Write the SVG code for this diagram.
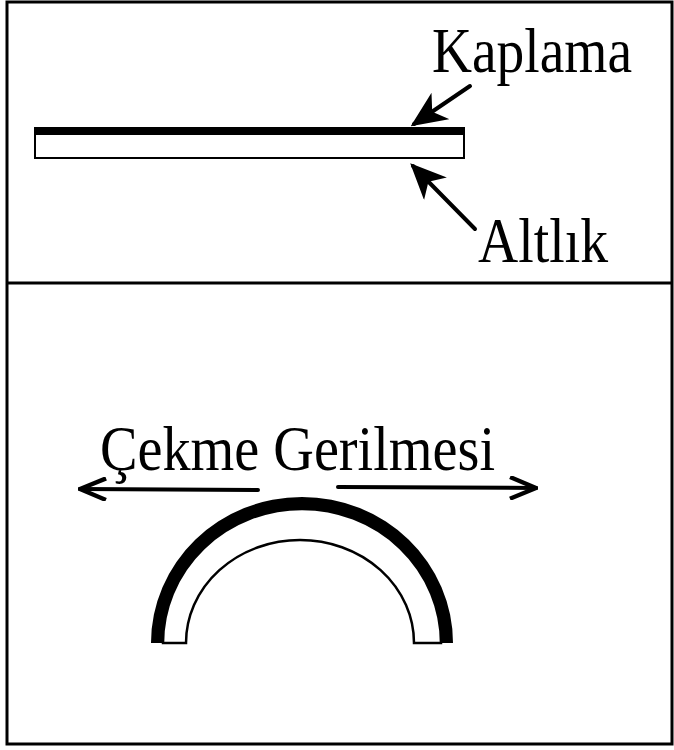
<svg xmlns="http://www.w3.org/2000/svg" width="674" height="750" viewBox="0 0 674 750">
<style>
.lbl{font-family:"Liberation Serif","Times New Roman",serif;font-size:64px;fill:#000}
.ln{stroke:#000;stroke-width:4;fill:none;stroke-linecap:round}
</style>
<defs>
<marker id="tri" markerWidth="9" markerHeight="8" refX="8" refY="4" orient="auto" markerUnits="strokeWidth">
<path d="M0,0 L9,4 L0,8 L2.5,4 Z" fill="#000"/>
</marker>
<marker id="barb" markerWidth="8" markerHeight="6" refX="7.5" refY="3" orient="auto" markerUnits="strokeWidth">
<path d="M1,0.3 L7.5,3 L1,5.7" fill="none" stroke="#000" stroke-width="1.1"/>
</marker>
</defs>
<rect x="0" y="0" width="674" height="750" fill="#fff"/>
<g id="frame">
<rect x="7" y="2" width="665" height="742" fill="none" stroke="#000" stroke-width="3"/>
<line x1="7" y1="283" x2="672" y2="283" stroke="#000" stroke-width="3"/>
</g>
<g id="flat-sample">
<rect x="34" y="127" width="431" height="8" fill="#000"/>
<rect x="35" y="134" width="429" height="24" fill="#fff" stroke="#000" stroke-width="2"/>
</g>
<g id="arch-sample">
<path d="M151,643 A151,146 0 0 1 453,643 L441,643 A139,134 0 0 0 163,643 Z" fill="#000"/>
<path d="M163,643 A139,134 0 0 1 441,643 L414,643 A114,103 0 0 0 186,643 Z" fill="#fff" stroke="#000" stroke-width="2.5"/>
</g>
<g id="label-kaplama"><text class="lbl" x="432" y="72" textLength="200" lengthAdjust="spacingAndGlyphs">Kaplama</text></g>
<g id="label-altlik"><text class="lbl" x="478" y="262" textLength="130" lengthAdjust="spacingAndGlyphs">Altlık</text></g>
<g id="label-cekme"><text class="lbl" x="100" y="470" textLength="395" lengthAdjust="spacingAndGlyphs">Çekme Gerilmesi</text></g>
<g id="connectors">
<line class="ln" x1="470" y1="86" x2="414" y2="124" marker-end="url(#tri)"/>
<line class="ln" x1="475" y1="229" x2="413" y2="166" marker-end="url(#tri)"/>
<line class="ln" x1="258" y1="490" x2="80" y2="489" marker-end="url(#barb)"/>
<line class="ln" x1="338" y1="487" x2="536" y2="488" marker-end="url(#barb)"/>
</g>
</svg>
